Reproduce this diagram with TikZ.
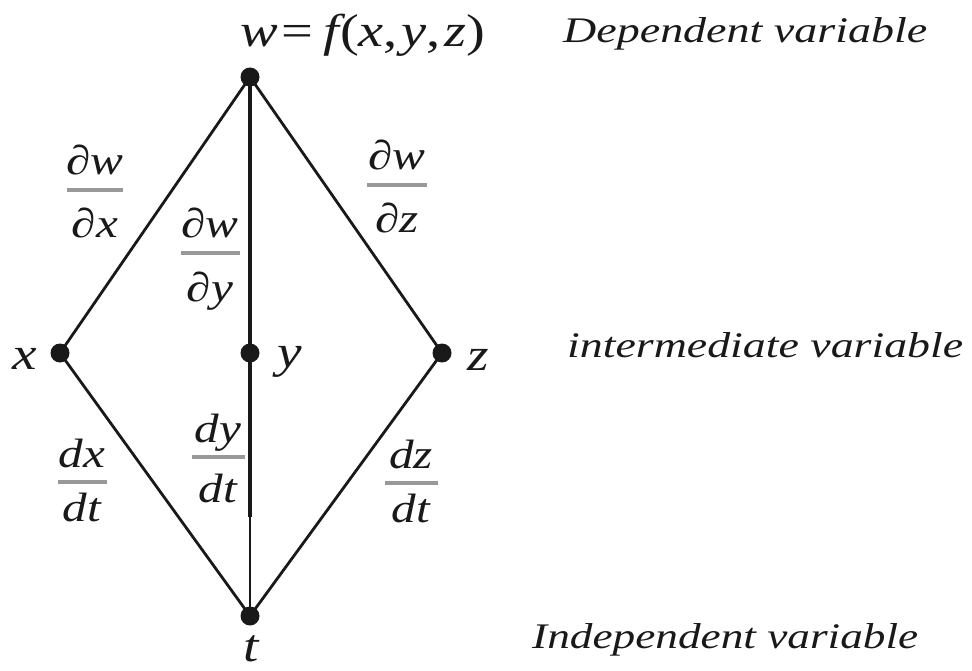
\documentclass[tikz,border=0pt]{standalone}
\usepackage{fontspec}
\setmainfont{Liberation Serif}
\usepackage{graphicx}
\definecolor{ink}{gray}{0.1}
\definecolor{barcol}{gray}{0.6}
\newcommand\sx[1]{\scalebox{1.2}[1]{#1}}
\newcommand\fitw[2]{\resizebox{#1}{\height}{#2}}
\begin{document}
\begin{tikzpicture}[x=1pt,y=-1pt,
 dot/.style={circle,fill=ink,inner sep=0,minimum size=19pt},
 edge/.style={draw=ink,line width=2.8pt},
 trunk/.style={draw=ink,line width=4.6pt},
 thinline/.style={draw=ink,line width=2.3pt},
 mlab/.style={text=ink,inner sep=0,anchor=base,font=\fontsize{46}{50}\selectfont\itshape},
 tlab/.style={text=ink,inner sep=0,anchor=base west,font=\fontsize{36}{40}\selectfont\itshape},
 fnum/.style={text=ink,inner sep=0,anchor=base,font=\fontsize{41}{45}\selectfont\itshape},
 fbar/.style={fill=barcol,inner sep=0,minimum height=3.2pt}]
\newcommand\Frac[7]{%
 \node[fbar,minimum width=#4pt] (#1) at (#2,#3) {};
 \node[fnum] (#1n) at (#2,#3-15) {\sx{#5}};
 \node[fnum] (#1d) at (#2,#3+#7) {\sx{#6}};}
\useasboundingbox (0,0) rectangle (972,671);
% vertices
\node[dot] (w) at (250,77) {};
\node[dot] (x) at (60,353) {};
\node[dot] (y) at (250,353) {};
\node[dot] (z) at (442,353) {};
\node[dot] (t) at (250,616) {};
\coordinate (ye) at (250,517);
% edges
\draw[edge] (w.center) -- (x.center);
\draw[edge] (w.center) -- (z.center);
\draw[edge] (x.center) -- (t.center);
\draw[edge] (z.center) -- (t.center);
\draw[trunk] (w.center) -- (y.center) -- (ye);
\draw[thinline] (ye) -- (t.center);
% fractions
\Frac{fx}{95}{190}{56}{∂w}{∂x}{48}
\Frac{fy}{210}{253}{59}{∂w}{∂y}{48}
\Frac{fz}{397}{185}{60}{∂w}{∂z}{48}
\Frac{gx}{82}{482}{49}{dx}{dt}{39}
\Frac{gy}{218}{457}{53}{dy}{dt}{45}
\Frac{gz}{411}{483}{53}{dz}{dt}{39}
% vertex labels
\node[mlab] (xl) at (25,369) {\sx{x}};
\node[mlab] (yl) at (290,367) {\sx{y}};
\node[mlab] (zl) at (478,370) {\sx{z}};
\node[mlab] (tl) at (251,661) {\sx{t}};
\node[mlab,anchor=base west] (eq) at (240,47) {\fitw{245pt}{w\kern3pt\upshape=\kern8pt\itshape f\kern1pt\upshape(\itshape x\upshape,\kern3pt\itshape y\upshape,\kern3pt\itshape z\upshape)}};
% level labels
\node[tlab] (dep) at (563,43) {\fitw{364pt}{Dependent variable}};
\node[tlab] (int) at (567,357) {\fitw{396pt}{intermediate variable}};
\node[tlab] (ind) at (532,648) {\fitw{386pt}{Independent variable}};
\end{tikzpicture}
\end{document}
